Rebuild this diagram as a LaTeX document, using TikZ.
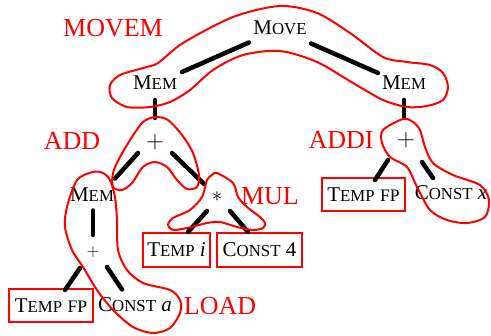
\documentclass[tikz,border=0pt]{standalone}
\usepackage{fontspec}
\setmainfont{Liberation Serif}
\usetikzlibrary{calc}
\newcommand\sckp[2]{#1{\fontsize{16.8}{17}\selectfont #2}}
\newcommand\scfp{{\fontsize{17.6}{18}\selectfont FP}}
\begin{document}
\begin{tikzpicture}[x=1pt,y=-1pt,
  lbl/.style={font=\fontsize{21}{23}\selectfont, inner sep=0pt},
  box/.style={lbl, draw=red, line width=2.2pt},
  op/.style={inner sep=0pt},
  edge/.style={line width=4.5pt, line cap=round},
  blob/.style={draw=red, line width=2pt},
  tag/.style={text=red, font=\fontsize{26}{28}\selectfont, inner sep=0pt}]
\useasboundingbox (0,0) rectangle (491,336);

% nodes
\node[lbl] (move) at (280,27.5) {\sckp{M}{OVE}};
\node[lbl] (memL) at (155,83) {\sckp{M}{EM}};
\node[lbl] (memR) at (404,83) {\sckp{M}{EM}};
\node[op, font=\fontsize{27}{27}\selectfont] (plusL) at (155,142) {$+$};
\node[op, font=\fontsize{22}{22}\selectfont] (mulS) at (217,197) {$\ast$};
\node[lbl] (memB) at (92,194.5) {\sckp{M}{EM}};
\node[op, font=\fontsize{18}{18}\selectfont] (plusB) at (93,252) {$+$};
\node[box, minimum width=84pt, minimum height=33pt] (tfpL) at (51,305.5) {\sckp{T}{EMP} \scfp};
\node[lbl] (cstA) at (135,304.5) {\sckp{C}{ONST} \textit{a}};
\node[box, minimum width=67pt, minimum height=34pt] (tmpI) at (176.5,250) {\sckp{T}{EMP} \textit{i}};
\node[box, minimum width=85pt, minimum height=34pt] (cst4) at (259.5,250) {\sckp{C}{ONST} 4};
\node[op, font=\fontsize{28}{28}\selectfont] (plusR) at (406,140) {$+$};
\node[box, minimum width=83pt, minimum height=33pt] (tfpR) at (363.5,194.5) {\sckp{T}{EMP} \scfp};
\node[lbl] (cstX) at (451,193) {\sckp{C}{ONST} \textit{x}};

% red tags
\node[tag] (tMovem) at (113,28) {MOVEM};
\node[tag] (tAdd) at (72,141) {ADD};
\node[tag] (tMul) at (270,196) {MUL};
\node[tag] (tAddi) at (341,140) {ADDI};
\node[tag] (tLoad) at (220,306) {LOAD};

% edges
\draw[edge] ($(move)+(-31,15)$) -- ($(memL)+(27,-11)$);
\draw[edge] ($(move)+(31,16)$) -- ($(memR)+(-26,-10)$);
\draw[edge] ($(memL)+(0,17)$) -- ($(plusL)+(0,-24)$);
\draw[edge] ($(plusL)+(-17,11)$) -- ($(memB)+(23,-16)$);
\draw[edge] ($(plusL)+(17,11)$) -- ($(mulS)+(-13,-13)$);
\draw[edge] ($(memB)+(1,16)$) -- ($(plusB)+(0,-17)$);
\draw[edge] ($(plusB)+(-13,16)$) -- ($(tfpL)+(14,-15.5)$);
\draw[edge] ($(plusB)+(14,15)$) -- ($(cstA)+(-13,-15)$);
\draw[edge] ($(mulS)+(-10,14)$) -- ($(tmpI)+(11.5,-18)$);
\draw[edge] ($(mulS)+(13,14)$) -- ($(cst4)+(-11.5,-18)$);
\draw[edge] ($(memR)+(0,17)$) -- ($(plusR)+(-2,-23)$);
\draw[edge] ($(plusR)+(-18,20)$) -- ($(tfpR)+(11.5,-14.5)$);
\draw[edge] ($(plusR)+(16,22)$) -- ($(cstX)+(-18,-15)$);

% tiles (red outlines)
\draw[blob] plot[smooth cycle] coordinates {(280,6) (317,13) (350,33) (383,57) (407,62) (430,65) (443,73) (448,87) (443,100) (427,106) (407,107) (383,100) (353,83) (317,62) (280,51) (243,55) (213,70) (190,90) (170,102) (150,107) (127,107) (112,98) (110,85) (120,75) (143,68) (158,63) (183,43) (233,17)};
\draw[blob] plot[smooth cycle] coordinates {(155,117) (168,120) (182,135) (193,153) (199,175) (197,187) (187,189) (177,180) (167,167) (155,162) (143,167) (132,183) (122,190) (113,187) (113,173) (120,157) (132,137) (143,122)};
\draw[blob] plot[smooth cycle] coordinates {(217,173) (233,183) (238,197) (247,207) (260,217) (265,223) (263,228) (253,230) (237,227) (220,222) (207,223) (187,228) (173,230) (168,225) (173,218) (190,210) (202,197) (207,180) (212,175)};
\draw[blob] plot[smooth cycle] coordinates {(93,172) (103,173) (110,180) (115,197) (117,220) (118,250) (127,270) (143,283) (170,290) (180,300) (180,313) (170,328) (153,333) (133,327) (113,310) (97,290) (83,267) (72,250) (65,227) (67,207) (77,180)};
\draw[blob] plot[smooth cycle] coordinates {(403,119) (413,122) (420,130) (425,147) (433,163) (453,175) (480,185) (489,200) (485,217) (467,223) (447,220) (430,210) (417,187) (407,167) (390,157) (382,143) (383,130)};
\end{tikzpicture}
\end{document}
